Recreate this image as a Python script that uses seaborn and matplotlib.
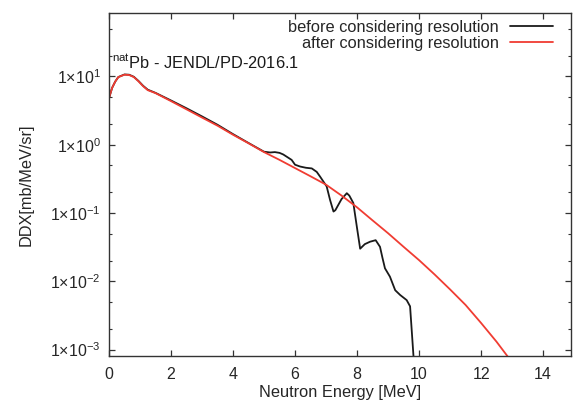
import numpy as np
import pandas as pd
import matplotlib
matplotlib.use("Agg")
import matplotlib.pyplot as plt
import matplotlib.ticker as mticker
import seaborn as sns

# ---- data ----
energy_after = [0.0, 0.1, 0.2, 0.3, 0.5, 0.65, 0.8, 0.95, 1.1, 1.25, 1.5, 2.0, 2.5,
                3.0, 3.5, 4.0, 4.5, 5.0, 5.5, 6.0, 6.5, 7.0, 7.5, 8.0, 8.5, 9.0,
                9.5, 10.0, 10.5, 11.0, 11.5, 12.0, 12.5, 13.0]
ddx_after = [4.8, 6.8, 8.4, 9.8, 10.6, 10.5, 9.8, 8.5, 7.2, 6.3, 5.7, 4.35, 3.3,
             2.5, 1.9, 1.4, 1.05, 0.78, 0.60, 0.455, 0.345, 0.26, 0.18, 0.121,
             0.078, 0.0506, 0.032, 0.0204, 0.0126, 0.0076, 0.0045, 0.00245,
             0.0013, 0.00065]

energy_before = [0.0, 0.1, 0.2, 0.3, 0.5, 0.65, 0.8, 0.95, 1.1, 1.25, 1.5, 2.0,
                 2.5, 3.0, 3.5, 4.0, 4.5, 5.0, 5.2, 5.35, 5.5, 5.62, 5.89, 6.0,
                 6.16, 6.35, 6.54, 6.7, 6.81, 7.02, 7.13, 7.24, 7.3, 7.5, 7.67,
                 7.75, 7.88, 8.0, 8.1, 8.25, 8.42, 8.6, 8.74, 8.82, 8.9, 9.06,
                 9.23, 9.39, 9.6, 9.71, 9.82, 9.9]
ddx_before = [4.8, 6.8, 8.4, 9.8, 10.7, 10.6, 9.9, 8.6, 7.3, 6.4, 5.75, 4.45,
              3.42, 2.6, 1.96, 1.43, 1.06, 0.79, 0.77, 0.78, 0.76, 0.72, 0.60,
              0.51, 0.48, 0.46, 0.45, 0.40, 0.34, 0.245, 0.155, 0.105, 0.11,
              0.16, 0.195, 0.18, 0.14, 0.06, 0.030, 0.035, 0.038, 0.040, 0.032,
              0.022, 0.0155, 0.0117, 0.0074, 0.0063, 0.0053, 0.0043, 0.0008,
              0.0001]

yticks = [1e-3, 1e-2, 1e-1, 1e0, 1e1]
ytick_labels = [r"$\mathregular{1{\times}10^{-3}}$", r"$\mathregular{1{\times}10^{-2}}$",
                r"$\mathregular{1{\times}10^{-1}}$", r"$\mathregular{1{\times}10^{0}}$",
                r"$\mathregular{1{\times}10^{1}}$"]
xticks = [0, 2, 4, 6, 8, 10, 12, 14]

sns.set_theme(style="ticks")
plt.rcParams["font.family"] = ["Liberation Sans", "DejaVu Sans"]
plt.rcParams["mathtext.default"] = "regular"
FS = 11.8

fig = plt.figure(figsize=(5.73, 4.05), dpi=100)
W, H = 573, 405
ax = fig.add_axes([109 / W, 1 - 356 / H, (571 - 109) / W, (356 - 13) / H])

df_b = pd.DataFrame({"E": energy_before, "DDX": ddx_before})
df_a = pd.DataFrame({"E": energy_after, "DDX": ddx_after})
sns.lineplot(data=df_b, x="E", y="DDX", ax=ax, color="#1a1a1a", lw=1.3,
             label="before considering resolution", sort=False)
sns.lineplot(data=df_a, x="E", y="DDX", ax=ax, color="#f03c32", lw=1.3,
             label="after considering resolution", sort=False)

ax.set_yscale("log")
ax.set_xlim(0, 14.9)
ax.set_ylim(8.05e-4, 85)
ax.set_xticks(xticks)
ax.set_xticklabels([str(t) for t in xticks], fontsize=11.5)
ax.set_yticks(yticks)
ax.set_yticklabels(ytick_labels, fontsize=11.5)
ax.yaxis.set_minor_locator(mticker.LogLocator(base=10, subs=[2, 5]))
ax.yaxis.set_minor_formatter(mticker.NullFormatter())
ax.tick_params(which="both", direction="in", top=True, right=True,
               color="#333333")
ax.tick_params(which="major", length=4, width=0.9, pad=6)
ax.tick_params(axis="x", which="major", pad=8)
ax.tick_params(which="minor", length=2.5, width=0.8)
for s in ax.spines.values():
    s.set_color("#333333")
    s.set_linewidth(1.0)

ax.set_xlabel("Neutron Energy [MeV]", fontsize=FS, labelpad=2)
ax.set_ylabel("DDX[mb/MeV/sr]", fontsize=FS, labelpad=12)

ax.text(0.1, 13.4, r"$\mathregular{^{nat}}$Pb - JENDL/PD-2016.1", fontsize=FS,
        va="baseline", ha="left", color="#1a1a1a")

leg = ax.legend(loc="upper right", bbox_to_anchor=(553 / W, 1 - 20 / H),
                bbox_transform=fig.transFigure, frameon=False, markerfirst=False,
                fontsize=FS, handlelength=2.6, handletextpad=0.7,
                labelspacing=0.05, borderpad=0, borderaxespad=0)
for t in leg.get_texts():
    t.set_ha("right")
leg._legend_box.align = "right"

fig.savefig("out.png", dpi=100)
